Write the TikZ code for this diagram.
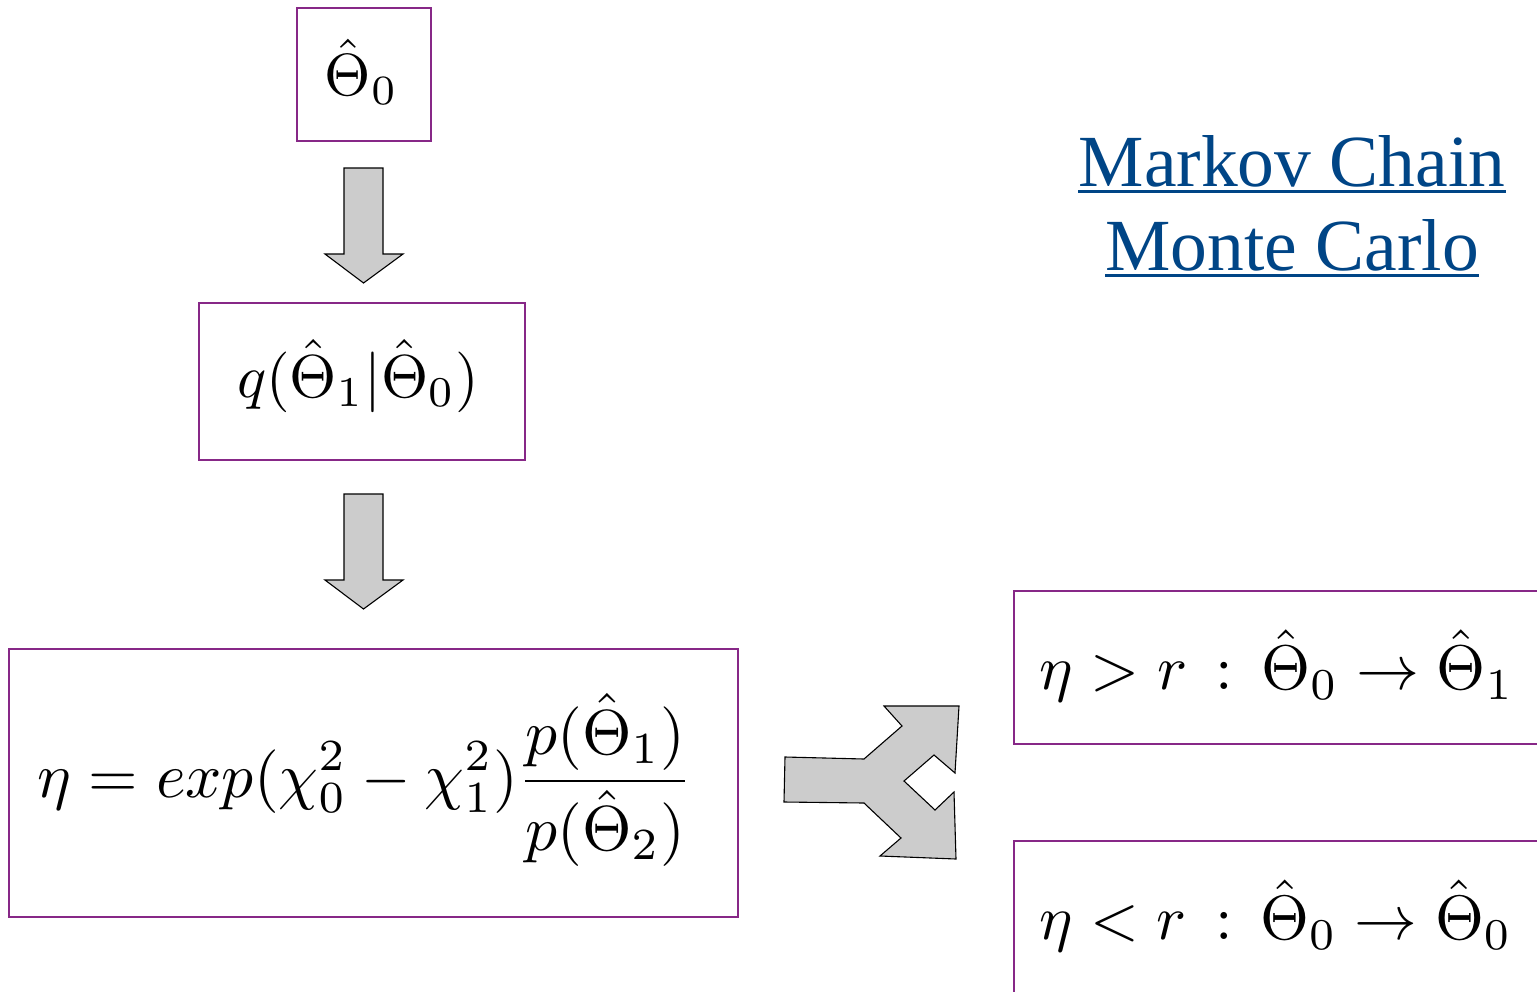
\documentclass[tikz,border=0pt]{standalone}
\usepackage{graphicx}
\usepackage{fontspec}
\newfontfamily\titlefont{Liberation Serif}
\definecolor{boxpurple}{RGB}{135,40,135}
\definecolor{titleblue}{RGB}{0,69,134}
\definecolor{arrowgray}{RGB}{204,204,204}
\tikzset{
  mbox/.style={draw=boxpurple, line width=1.1pt, inner sep=0pt, fill=none},
  formula/.style={inner sep=0pt},
  blockarrow/.style={draw=black, fill=arrowgray, line width=1.1pt, line join=miter},
  titletext/.style={inner sep=0pt, anchor=base, text=titleblue, font=\titlefont\fontsize{73.5}{80}\selectfont},
  uline/.style={draw=titleblue, line width=3pt}
}
\begin{document}
\begin{tikzpicture}[x=1pt,y=-1pt]
\useasboundingbox (0,0) rectangle (1537,991);
\clip (0,0) rectangle (1537,991);
\fill[white] (0,0) rectangle (1537,991);
% boxes
\node[mbox, minimum width=134pt, minimum height=133pt] (b1) at (364,74.5) {};
\node[mbox, minimum width=326pt, minimum height=157pt] (b2) at (362,381.5) {};
\node[mbox, minimum width=729pt, minimum height=268pt] (b3) at (373.5,783) {};
\node[mbox, minimum width=560pt, minimum height=153pt] (b4) at (1294,667.5) {};
\node[mbox, minimum width=560pt, minimum height=155pt] (b5) at (1294,918.5) {};
% formulas
\node[formula] (f1) at (361.5,72) {\resizebox{73pt}{!}{$\hat\Theta_0$}};
\node[formula] (f2) at (358,376) {\resizebox{242pt}{!}{$q(\hat\Theta_1|\hat\Theta_0)$}};
\node[formula] (f3) at (365,780) {\resizebox{655pt}{!}{$\displaystyle \eta = exp(\chi_0^2-\chi_1^2)\frac{p(\hat\Theta_1)}{p(\hat\Theta_2)}$}};
\node[formula] (f4) at (1277,666) {\resizebox{474pt}{!}{$\eta > r\,:\,\hat\Theta_0\rightarrow\hat\Theta_1$}};
\node[formula] (f5) at (1276,916) {\resizebox{472pt}{!}{$\eta < r\,:\,\hat\Theta_0\rightarrow\hat\Theta_0$}};
% block arrows
\draw[blockarrow] (344,168) -- (383,168) -- (383,254) -- (403,254) -- (363.5,283) -- (325,254) -- (344,254) -- cycle;
\draw[blockarrow] (344,494) -- (383,494) -- (383,580) -- (403,580) -- (363.5,609) -- (325,580) -- (344,580) -- cycle;
\draw[blockarrow] (785,757) -- (864,759) -- (902,726) -- (884,706) -- (959,706) -- (955,773) -- (934,755)
  -- (904,781) -- (935,810) -- (954,792) -- (956,859) -- (880,856) -- (901,838) -- (864,803) -- (784,802) -- cycle;
% title
\node[titletext] (t1) at (1292,186.7) {Markov Chain};
\node[titletext] (t2) at (1292,270) {Monte Carlo};
\draw[uline] ([yshift=-5pt]t1.base west) -- ([yshift=-5pt]t1.base east);
\draw[uline] ([yshift=-5pt]t2.base west) -- ([yshift=-5pt]t2.base east);
\end{tikzpicture}
\end{document}
